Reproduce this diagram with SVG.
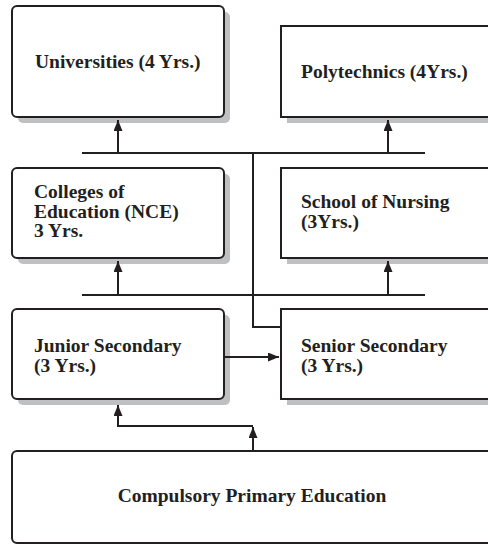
<svg xmlns="http://www.w3.org/2000/svg" width="488" height="544" viewBox="0 0 488 544">
  <style>
    .box { fill: #ffffff; stroke: #231f20; stroke-width: 2; }
    .shadow { fill: #bfc0c2; stroke: none; }
    .label { font-family: "Liberation Serif", "Times New Roman", serif; font-weight: bold; font-size: 19.5px; fill: #231f20; }
    .wire { fill: none; stroke: #231f20; stroke-width: 2; }
  </style>
  <defs>
    <marker id="arrow" markerUnits="userSpaceOnUse" markerWidth="11" markerHeight="9" refX="11" refY="4.5" orient="auto">
      <path d="M0,0 L11,4.5 L0,9 z" fill="#231f20"/>
    </marker>
  </defs>
  <rect width="488" height="544" fill="#ffffff"/>

  <g id="universities">
    <rect class="shadow" x="18" y="12" width="212" height="111" rx="5"/>
    <rect class="box" x="12" y="6" width="212" height="111" rx="5"/>
    <text class="label" x="35" y="68">Universities (4 Yrs.)</text>
  </g>

  <g id="polytechnics">
    <rect class="shadow" x="287" y="32" width="220" height="91"/>
    <rect class="box" x="281" y="26" width="220" height="91"/>
    <text class="label" x="301" y="78">Polytechnics (4Yrs.)</text>
  </g>

  <g id="colleges">
    <rect class="shadow" x="18" y="174" width="212" height="90" rx="5"/>
    <rect class="box" x="12" y="168" width="212" height="90" rx="5"/>
    <text class="label" x="34" y="198">Colleges of</text>
    <text class="label" x="34" y="218">Education (NCE)</text>
    <text class="label" x="34" y="237">3 Yrs.</text>
  </g>

  <g id="nursing">
    <rect class="shadow" x="287" y="174" width="220" height="90"/>
    <rect class="box" x="281" y="168" width="220" height="90"/>
    <text class="label" x="301" y="208">School of Nursing</text>
    <text class="label" x="301" y="228">(3Yrs.)</text>
  </g>

  <g id="junior">
    <rect class="shadow" x="18" y="315" width="212" height="90" rx="5"/>
    <rect class="box" x="12" y="309" width="212" height="90" rx="5"/>
    <text class="label" x="34" y="352">Junior Secondary</text>
    <text class="label" x="34" y="372">(3 Yrs.)</text>
  </g>

  <g id="senior">
    <rect class="shadow" x="287" y="315" width="220" height="90"/>
    <rect class="box" x="281" y="309" width="220" height="90"/>
    <text class="label" x="301" y="352">Senior Secondary</text>
    <text class="label" x="301" y="372">(3 Yrs.)</text>
  </g>

  <g id="primary">
    <rect class="box" x="12" y="451" width="500" height="92" rx="5"/>
    <text class="label" x="252" y="502" text-anchor="middle">Compulsory Primary Education</text>
  </g>

  <g id="connectors">
    <path class="wire" d="M82,153 H425"/>
    <path class="wire" d="M118,153 V120" marker-end="url(#arrow)"/>
    <path class="wire" d="M388,153 V120" marker-end="url(#arrow)"/>
    <path class="wire" d="M253,153 V327 H281"/>
    <path class="wire" d="M82,295 H425"/>
    <path class="wire" d="M118,295 V261" marker-end="url(#arrow)"/>
    <path class="wire" d="M388,295 V261" marker-end="url(#arrow)"/>
    <path class="wire" d="M224,357 H279" marker-end="url(#arrow)"/>
    <path class="wire" d="M253,451 V427" marker-end="url(#arrow)"/>
    <path class="wire" d="M253,426 H118 V405" marker-end="url(#arrow)"/>
  </g>
</svg>
